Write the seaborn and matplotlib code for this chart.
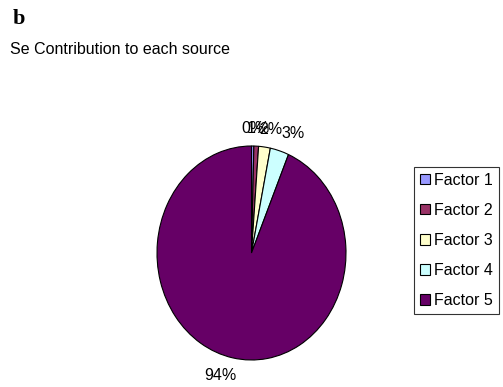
import matplotlib
matplotlib.use("Agg")
import numpy as np
import matplotlib.pyplot as plt
import seaborn as sns

sns.set_style("white")
plt.rcParams["font.family"] = ["Liberation Sans", "DejaVu Sans"]
plt.rcParams["text.color"] = "black"

factors = ["Factor 1", "Factor 2", "Factor 3", "Factor 4", "Factor 5"]
shares = [0.4, 0.8, 2.0, 3.2, 93.6]
colors = ["#9999FF", "#993366", "#FFFFCC", "#CCFFFF", "#660066"]

W, H = 503, 387
fig = plt.figure(figsize=(W / 100, H / 100), dpi=100)
fig.patch.set_facecolor("white")

# pie axes in a pixel box (slightly taller than wide, so the pie is an ellipse)
x0, x1, y0, y1 = 157, 346, 146, 360
ax = fig.add_axes([x0 / W, (H - y1) / H, (x1 - x0) / W, (y1 - y0) / H])

wedges, _ = ax.pie(
    shares,
    colors=colors,
    startangle=90,
    counterclock=False,
    wedgeprops=dict(edgecolor="black", linewidth=0.8),
)
ax.set_xlim(-1.0, 1.0)
ax.set_ylim(-1.0, 1.0)
ax.set_aspect("auto")
ax.axis("off")

# percentage labels placed just outside the rim, box pushed away from the pie
fig.canvas.draw()
renderer = fig.canvas.get_renderer()
cum = np.cumsum([0] + shares)
total = cum[-1]
gap = 12.0
for i, v in enumerate(shares):
    mid = (cum[i] + cum[i + 1]) / 2 / total * 2 * np.pi
    s, c = np.sin(mid), np.cos(mid)
    ex, ey = ax.transData.transform((s, c))
    t = fig.text(0, 0, f"{v:.0f}%", fontsize=11.5, ha="center", va="center")
    bb = t.get_window_extent(renderer)
    w, h = bb.width, bb.height * 0.75
    cx = ex + gap * s + w / 2 * np.clip(s * 3, -1, 1)
    cy = ey + gap * c + h / 2 * np.clip(c * 3, -1, 1)
    t.set_position(fig.transFigure.inverted().transform((cx, cy)))

fig.text(13 / W, 1 - 19 / H, "b", fontsize=16, fontweight="bold",
         family="Liberation Serif", va="center", ha="left")
fig.text(10 / W, 1 - 50 / H, "Se Contribution to each source", fontsize=11.5,
         va="center", ha="left")

leg = fig.legend(
    wedges, factors,
    loc="upper left",
    bbox_to_anchor=(414 / W, 1 - 167 / H),
    frameon=True, fancybox=False, fontsize=11.5,
    handlelength=0.65, handleheight=0.65, handletextpad=0.28,
    labelspacing=0.95, borderpad=0.35, borderaxespad=0,
)
leg.get_frame().set_edgecolor("black")
leg.get_frame().set_linewidth(0.8)

fig.savefig("out.png", dpi=100, facecolor="white")
